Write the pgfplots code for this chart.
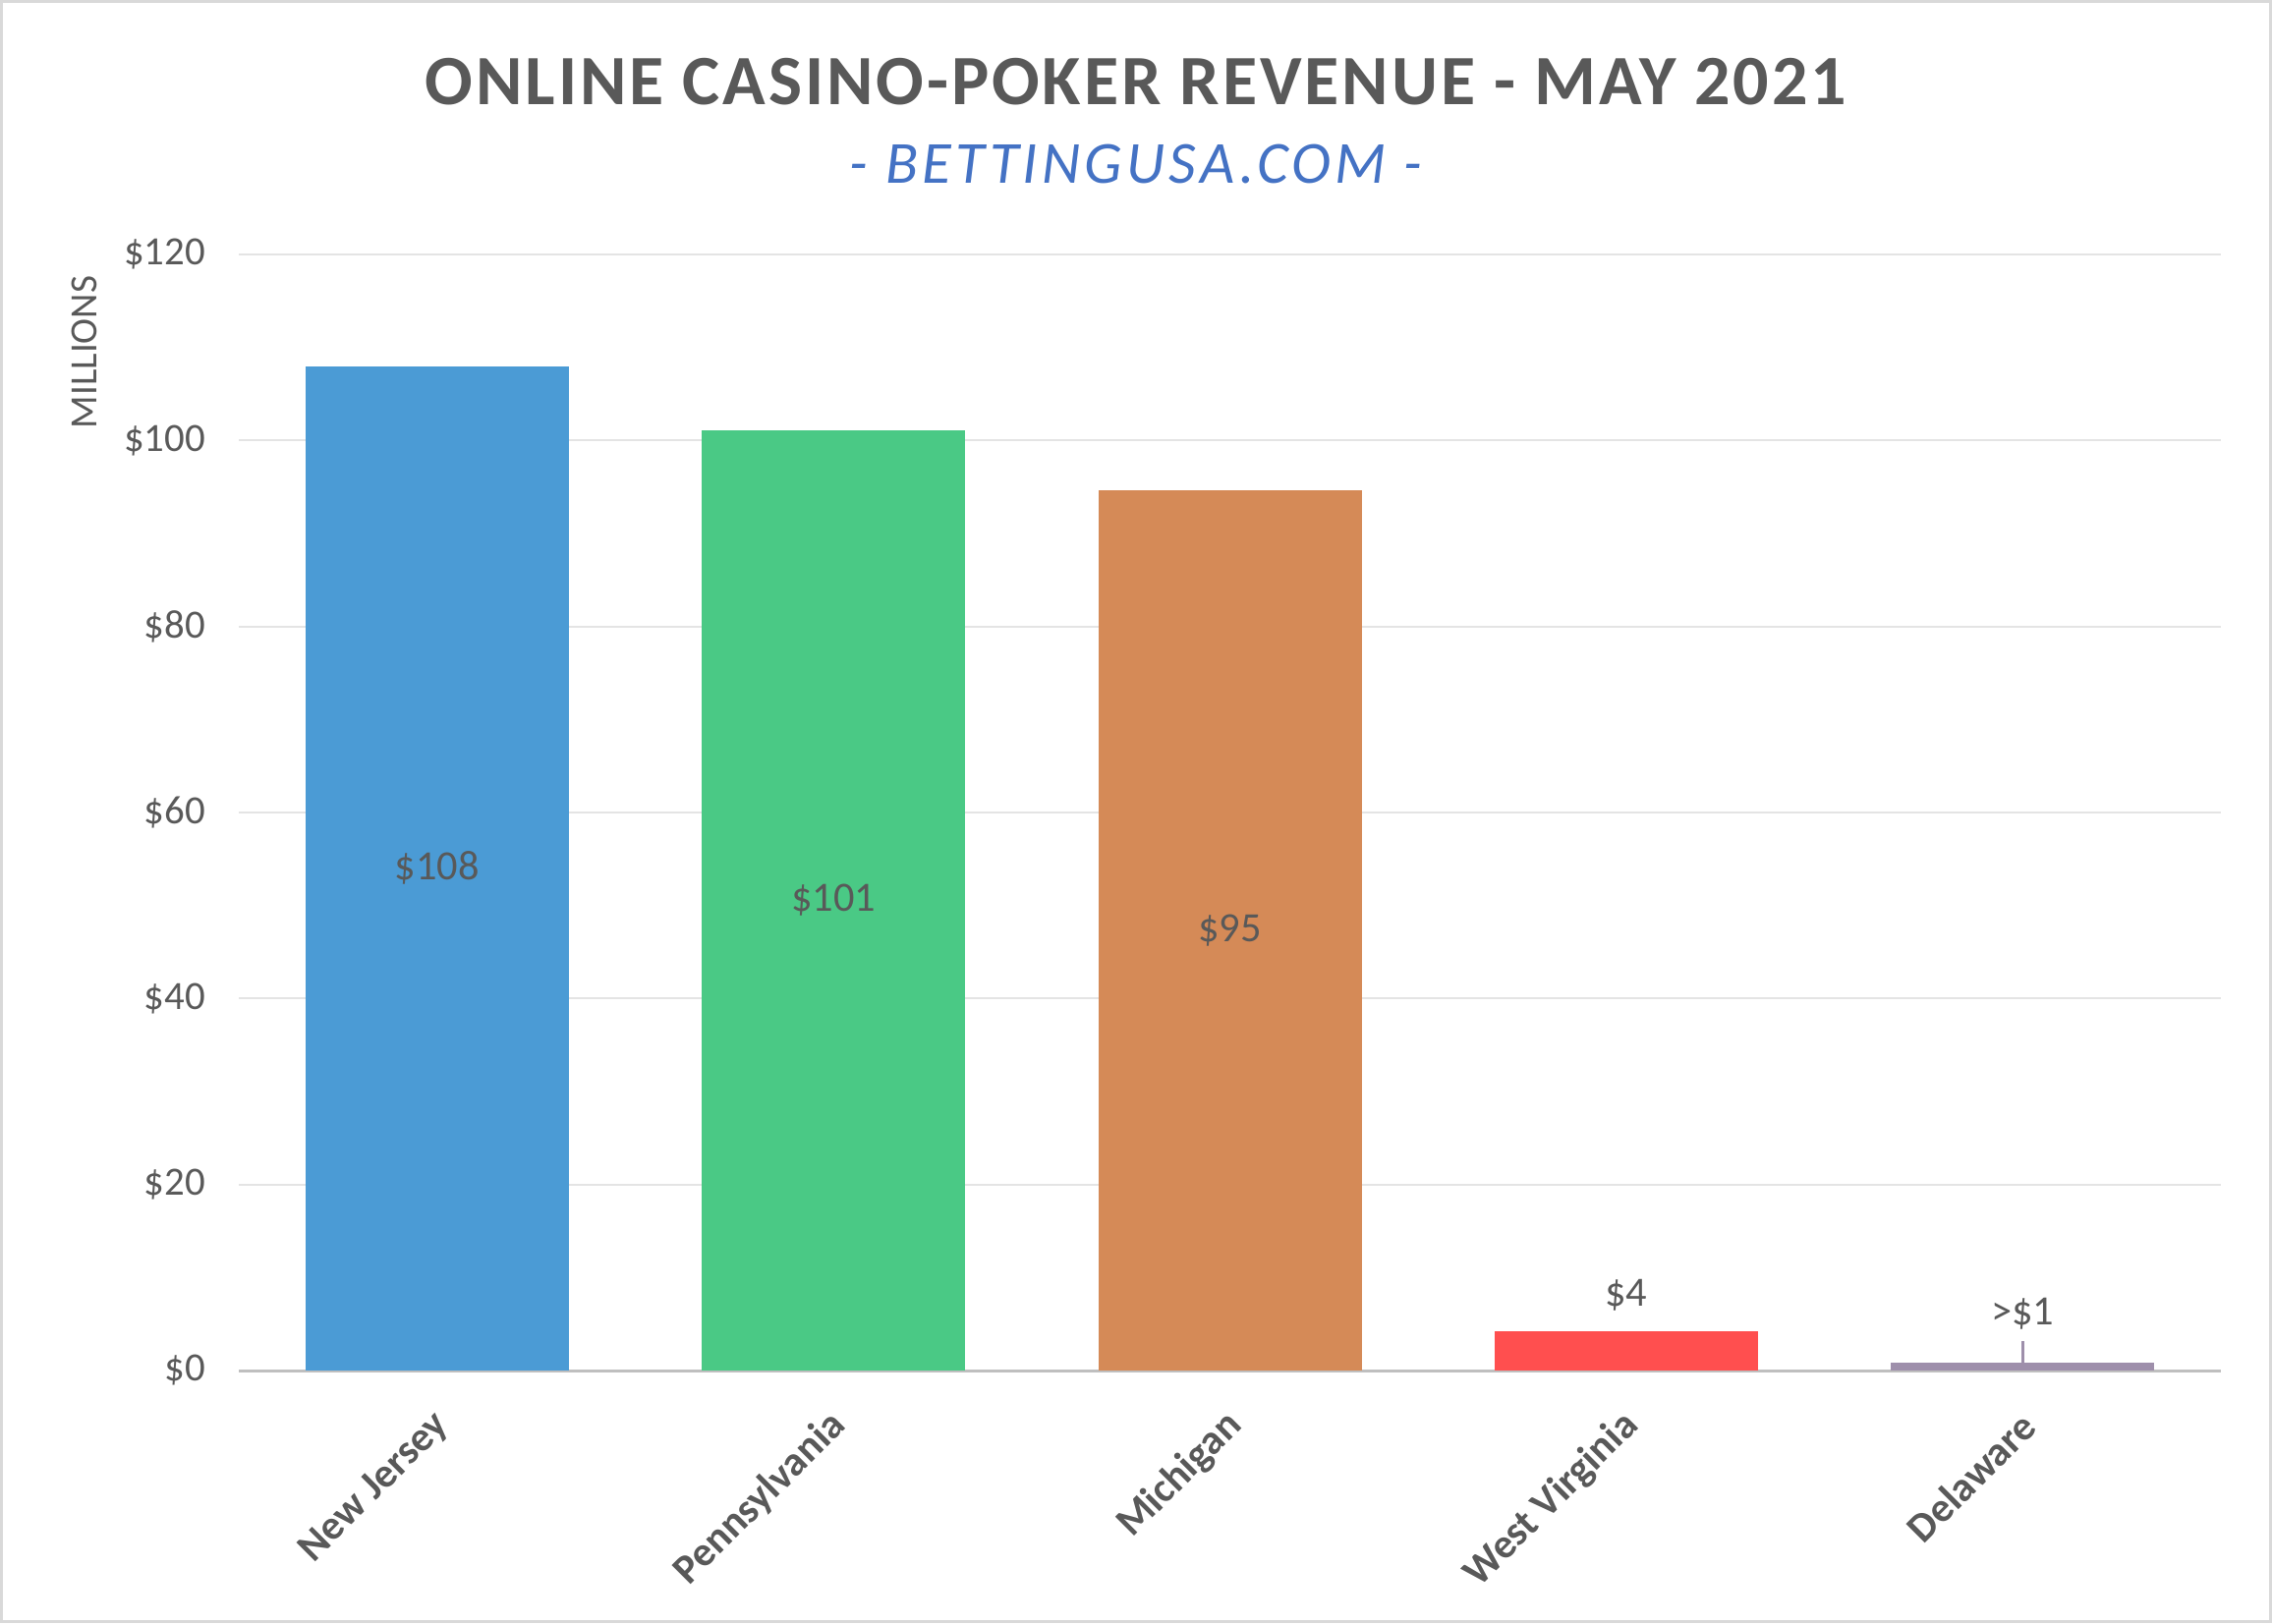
\documentclass[border=0pt]{standalone}
\usepackage{pgfplots}
\pgfplotsset{compat=1.18}
\usepackage{fontspec}
\setmainfont{Carlito}
\definecolor{txt}{HTML}{595959}
\definecolor{subblue}{HTML}{4472C4}
\definecolor{framegray}{HTML}{D9D9D9}
\definecolor{axgray}{HTML}{BFBFBF}
\definecolor{gridgray}{HTML}{E4E4E4}
\definecolor{cNJ}{HTML}{4B9BD5}
\definecolor{cPA}{HTML}{4AC985}
\definecolor{cMI}{HTML}{D58A57}
\definecolor{cWV}{HTML}{FF4F4F}
\definecolor{cDE}{HTML}{9E8FAB}
\definecolor{leader}{HTML}{9E8FAB}
\begin{document}
\begin{tikzpicture}
\useasboundingbox (0,0) rectangle (578pt,413pt);
\draw[framegray, line width=0.75pt] (0.375pt,0.375pt) rectangle (577.625pt,412.625pt);
\node[anchor=center, text=txt, inner sep=0pt] at (289pt,392.25pt)
  {\fontsize{18}{20}\selectfont\bfseries\addfontfeature{LetterSpace=4}ONLINE CASINO-POKER REVENUE - MAY 2021};
\node[anchor=center, text=subblue, inner sep=0pt] at (289pt,371.25pt)
  {\fontsize{15.2}{17}\selectfont\itshape\addfontfeature{LetterSpace=7}- BETTINGUSA.COM -};
\begin{axis}[
  at={(60.75pt,64.25pt)}, anchor=south west,
  scale only axis, width=504.25pt, height=284pt,
  xmin=-0.5, xmax=4.5, ymin=0, ymax=120,
  ytick={0,20,...,120},
  yticklabel={\$\pgfmathprintnumber{\tick}},
  /pgf/number format/assume math mode=true,
  xtick={0,1,2,3,4},
  xticklabels={New Jersey,Pennsylvania,Michigan,West Virginia,Delaware},
  axis x line*=bottom, axis y line*=left,
  y axis line style={draw=none},
  x axis line style={draw=axgray, line width=0.75pt},
  major tick length=0pt,
  ymajorgrids, grid style={draw=gridgray, line width=0.5pt},
  yticklabel style={font=\fontsize{10.2}{12}\selectfont, text=txt, anchor=east, xshift=-5pt},
  xticklabel style={font=\fontsize{10.5}{12}\selectfont\bfseries, text=txt, xshift=4pt, yshift=-10pt, rotate=45, anchor=east},
  ylabel={MILLIONS},
  every axis y label/.style={at={(rel axis cs:-0.0778,0.9815)}, rotate=90, anchor=east, font=\fontsize{9.8}{12}\selectfont, text=txt, inner sep=0pt},
  ybar, bar width=67pt, bar shift=0pt,
  every node near coord/.append style={font=\fontsize{10.6}{13}\selectfont, text=txt},
]
\addplot[fill=cNJ, draw=none, nodes near coords, point meta=explicit symbolic,
  visualization depends on={y \as \rawy},
  every node near coord/.append style={anchor=center, shift={(axis direction cs:0,-\rawy/2)}}]
  coordinates {(0,108.0) [\$108]};
\addplot[fill=cPA, draw=none, nodes near coords, point meta=explicit symbolic,
  visualization depends on={y \as \rawy},
  every node near coord/.append style={anchor=center, shift={(axis direction cs:0,-\rawy/2)}}]
  coordinates {(1,101.1) [\$101]};
\addplot[fill=cMI, draw=none, nodes near coords, point meta=explicit symbolic,
  visualization depends on={y \as \rawy},
  every node near coord/.append style={anchor=center, shift={(axis direction cs:0,-\rawy/2)}}]
  coordinates {(2,94.6) [\$95]};
\addplot[fill=cWV, draw=none, nodes near coords, point meta=explicit symbolic,
  every node near coord/.append style={anchor=south, inner sep=0pt, yshift=5pt}]
  coordinates {(3,4.2) [\$4]};
\addplot[fill=cDE, draw=none,
  nodes near coords={\textcolor{leader}{\rule{0.6pt}{5.5pt}}},
  every node near coord/.append style={anchor=south, inner sep=0pt,
    label={[text=txt, inner sep=0pt, yshift=2.5pt, font=\fontsize{10.6}{13}\selectfont]above:{>\$1}}}]
  coordinates {(4,0.8)};
\end{axis}
\end{tikzpicture}
\end{document}
